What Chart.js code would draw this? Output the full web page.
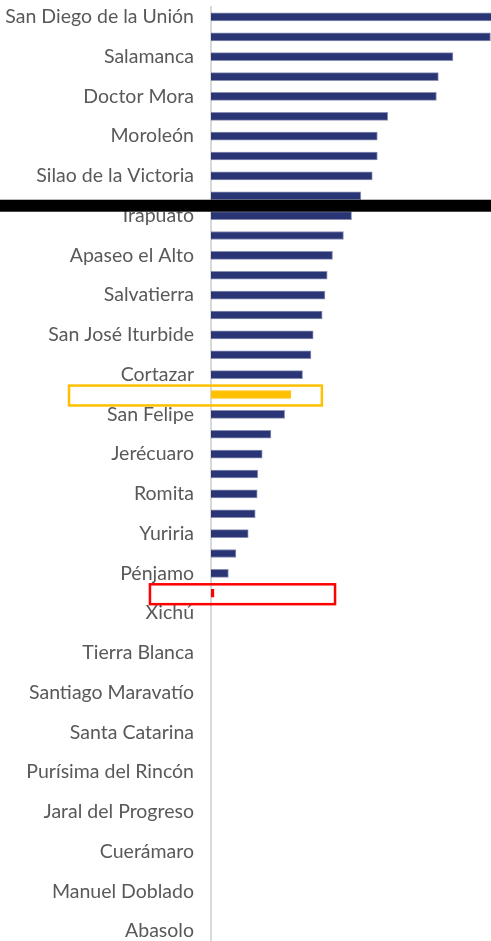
<!DOCTYPE html>
<html>
<head>
<meta charset="utf-8">
<script src="https://cdn.jsdelivr.net/npm/chart.js@4/dist/chart.umd.min.js"></script>
<style>
  html, body { margin: 0; padding: 0; background: #ffffff; }
  #wrap { position: relative; width: 491px; height: 941px; }
</style>
</head>
<body>
<div id="wrap"><canvas id="c"></canvas></div>
<script>
// Categories (every other label is shown on the axis)
const categories = [
  "San Diego de la Unión", "Atarjea", "Salamanca", "Victoria", "Doctor Mora",
  "Tarimoro", "Moroleón", "Coroneo", "Silao de la Victoria", "San Luis de la Paz",
  "Irapuato", "Celaya", "Apaseo el Alto", "Acámbaro", "Salvatierra",
  "Comonfort", "San José Iturbide", "Ocampo", "Cortazar", "Estado de Guanajuato",
  "San Felipe", "Tarandacuao", "Jerécuaro", "Villagrán", "Romita",
  "Apaseo el Grande", "Yuriria", "Valle de Santiago", "Pénjamo", "León",
  "Xichú", "Huanímaro", "Tierra Blanca", "Pueblo Nuevo", "Santiago Maravatío",
  "Uriangato", "Santa Catarina", "San Francisco del Rincón", "Purísima del Rincón", "Santa Cruz de Juventino Rosas",
  "Jaral del Progreso", "Dolores Hidalgo", "Cuerámaro", "San Miguel de Allende", "Manuel Doblado",
  "Guanajuato", "Abasolo"
];

// Values (axis runs 0–100; the first bar exceeds the plot and is clipped)
const values = [
  104, 99.8, 86.4, 81.2, 80.5,
  63.1, 59.4, 59.4, 57.6, 53.5,
  50.2, 47.3, 43.4, 41.5, 40.7,
  39.7, 36.5, 35.7, 32.7, 28.5,
  26.3, 21.4, 18.3, 16.7, 16.5,
  15.8, 13.3, 8.9, 6.2, 1.1,
  0, 0, 0, 0, 0,
  0, 0, 0, 0, 0,
  0, 0, 0, 0, 0,
  0, 0
];

const stateIndex = 19;   // highlighted in yellow
const focusIndex = 29;   // highlighted in red
const dividerAfter = 9.5; // thick black divider between categories 9 and 10

const NAVY = '#293574';
const barColors = values.map((v, i) => i === stateIndex ? '#FFC000' : (i === focusIndex ? '#FF0000' : NAVY));
const borderColors = values.map((v, i) => i === stateIndex ? '#FFC000' : (i === focusIndex ? '#FF0000' : 'rgba(41,53,116,0.55)'));

// highlight boxes in data units: [category, xFrom, xTo, colour, lineWidth]
const boxes = [
  [stateIndex, -50.7, 39.6, '#FFC000', 2.5],
  [focusIndex, -21.8, 44.3, '#FF0000', 2.5]
];

const overlay = {
  id: 'overlay',
  afterDraw(chart) {
    const ctx = chart.ctx, x = chart.scales.x, y = chart.scales.y;
    ctx.save();
    boxes.forEach(([cat, x0, x1, col, lw]) => {
      const top = y.getPixelForValue(cat - 0.5) + 1;
      const bot = y.getPixelForValue(cat + 0.5) + 1;
      const l = x.getPixelForValue(x0), r = x.getPixelForValue(x1);
      ctx.strokeStyle = col;
      ctx.lineWidth = lw;
      ctx.strokeRect(l, top, r - l, bot - top);
    });
    const yd = y.getPixelForValue(dividerAfter);
    ctx.fillStyle = '#000000';
    ctx.fillRect(0, yd - 6, chart.width, 12);
    ctx.restore();
  }
};

new Chart(document.getElementById('c'), {
  type: 'bar',
  data: {
    labels: categories,
    datasets: [{
      data: values,
      backgroundColor: barColors,
      borderColor: borderColors,
      borderWidth: 1,
      borderSkipped: 'left',
      barThickness: 8
    }]
  },
  options: {
    indexAxis: 'y',
    responsive: true,
    maintainAspectRatio: false,
    animation: false,
    layout: { padding: { top: 7, right: 0, bottom: 0, left: 0 } },
    plugins: { legend: { display: false }, tooltip: { enabled: false } },
    scales: {
      x: {
        display: false,
        min: 0,
        max: 100
      },
      y: {
        afterFit(scale) { scale.width = 211; scale.paddingTop = 0; scale.paddingBottom = 0; },
        grid: { display: false, drawTicks: false },
        border: { display: true, color: '#d9d9d9', width: 2 },
        ticks: {
          autoSkip: false,
          padding: 17,
          color: '#595959',
          font: { family: 'Lato', size: 19.5 },
          callback: function (v, i) { return i % 2 === 0 ? this.getLabelForValue(v) : ''; }
        }
      }
    }
  },
  plugins: [overlay]
});
</script>
</body>
</html>
